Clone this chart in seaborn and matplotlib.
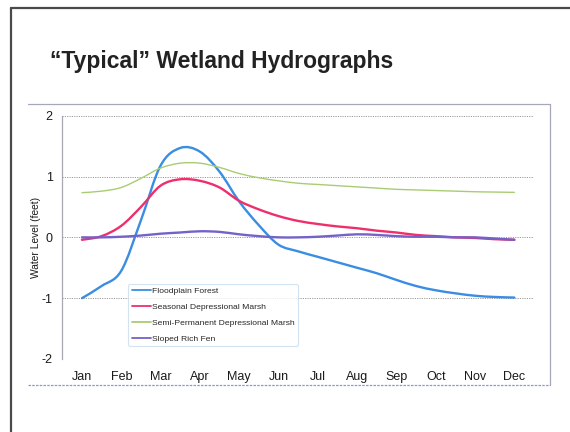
import numpy as np
import pandas as pd
import matplotlib
matplotlib.use("Agg")
import matplotlib.pyplot as plt
from matplotlib.lines import Line2D
from matplotlib.path import Path
from matplotlib.patches import PathPatch
import seaborn as sns

# Water level (feet) sampled twice a month, Jan (1) through Dec (12)
sample_month = [1, 1.5, 2, 2.5, 3, 3.5, 4, 4.5, 5, 5.5, 6, 6.5,
                7, 7.5, 8, 8.5, 9, 9.5, 10, 10.5, 11, 11.5, 12]

floodplain_forest = [-1.00, -0.80, -0.55, 0.28, 1.18, 1.47, 1.41, 1.08, 0.59, 0.20,
                     -0.12, -0.23, -0.32, -0.41, -0.50, -0.59, -0.70, -0.80, -0.87,
                     -0.92, -0.96, -0.98, -0.99]
seasonal_marsh = [-0.04, 0.02, 0.19, 0.50, 0.85, 0.955, 0.93, 0.82, 0.60, 0.46,
                  0.35, 0.27, 0.22, 0.18, 0.15, 0.11, 0.08, 0.04, 0.02, 0.00,
                  -0.01, -0.03, -0.04]
semi_permanent_marsh = [0.735, 0.76, 0.82, 0.97, 1.14, 1.22, 1.22, 1.15, 1.05, 0.98,
                        0.93, 0.89, 0.87, 0.85, 0.83, 0.81, 0.79, 0.78, 0.77, 0.76,
                        0.75, 0.745, 0.74]
sloped_rich_fen = [0.00, 0.00, 0.01, 0.03, 0.06, 0.08, 0.10, 0.09, 0.05, 0.02,
                   0.00, 0.00, 0.01, 0.03, 0.05, 0.04, 0.02, 0.01, 0.01, 0.00,
                   0.00, -0.02, -0.04]

series_names = ["Floodplain Forest", "Seasonal Depressional Marsh",
                "Semi-Permanent Depressional Marsh", "Sloped Rich Fen"]
series_values = [floodplain_forest, seasonal_marsh, semi_permanent_marsh, sloped_rich_fen]
series_colors = ["#3a8de2", "#ee2f6c", "#a9cc72", "#7462c8"]
series_widths = [1.7, 1.7, 1.0, 1.7]

month_labels = ["Jan", "Feb", "Mar", "Apr", "May", "Jun",
                "Jul", "Aug", "Sep", "Oct", "Nov", "Dec"]
y_ticks = [-2, -1, 0, 1, 2]

frames = []
for name, vals in zip(series_names, series_values):
    frames.append(pd.DataFrame({"month": sample_month, "level": vals, "wetland": name}))
df = pd.concat(frames, ignore_index=True)


def smooth_path(xs, ys):
    """Catmull-Rom style cubic Bezier path through the given points."""
    pts = np.column_stack([xs, ys]).astype(float)
    padded = np.vstack([pts[0], pts, pts[-1]])
    verts = [pts[0]]
    codes = [Path.MOVETO]
    for i in range(len(pts) - 1):
        p0, p1, p2, p3 = padded[i], padded[i + 1], padded[i + 2], padded[i + 3]
        verts += [p1 + (p2 - p0) / 6.0, p2 - (p3 - p1) / 6.0, p2]
        codes += [Path.CURVE4] * 3
    return Path(verts, codes)


sns.set_theme(style="white")
plt.rcParams["font.family"] = ["Liberation Sans", "DejaVu Sans"]

fig = plt.figure(figsize=(5.7, 4.32), dpi=100)
fig.patch.set_facecolor("white")
ax = fig.add_axes([0.1093, 0.169, 0.8275, 0.5631])

for name, color, lw in zip(series_names, series_colors, series_widths):
    sns.lineplot(data=df[df["wetland"] == name], x="month", y="level",
                 color=color, linewidth=lw, label=name, ax=ax,
                 errorbar=None, zorder=3)

ax.set_xlim(0.5, 12.5)
ax.set_ylim(-2, 2)
ax.set_xticks(range(1, 13))
ax.set_xticklabels(month_labels)
ax.set_xticks(np.arange(0.5, 12.6, 1), minor=True)
ax.set_yticks(y_ticks)
ax.set_yticklabels([str(v) for v in y_ticks])
ax.tick_params(axis="x", which="major", length=0, pad=9, labelsize=9, labelcolor="#1a1a1a")
ax.tick_params(axis="x", which="minor", length=3, width=0.8, color="#b0b0b0", direction="inout")
ax.tick_params(axis="y", length=0, pad=7, labelsize=9, labelcolor="#1a1a1a")

for v in [-1, 0, 1, 2]:
    ax.axhline(v, color="#9a9a9a", lw=0.7, ls=(0, (1.2, 1.2)), zorder=1)
ax.axhline(-2, color="#c8c8c8", lw=0.6, ls=(0, (1.2, 2.0)), zorder=1)

for side in ["top", "right", "bottom"]:
    ax.spines[side].set_visible(False)
ax.spines["left"].set_color("#a8a8b0")
ax.spines["left"].set_linewidth(0.9)

ax.set_xlabel("")
ax.set_ylabel("Water Level (feet)", fontsize=7.4, color="#1a1a1a", labelpad=0.5)

leg = ax.legend(loc="upper left", bbox_to_anchor=(0.14, 0.308), borderaxespad=0,
                fontsize=6.1, handlelength=2.3, handletextpad=0.1,
                labelspacing=0.92, borderpad=0.4, frameon=True, fancybox=True)
leg.get_frame().set_edgecolor("#c6dcf0")
leg.get_frame().set_linewidth(0.8)
leg.get_frame().set_facecolor("white")
leg.set_zorder(5)
for h in leg.get_lines():
    h.set_linewidth(1.3)

# render each seaborn line as a smoothed curve through its points
for line in list(ax.lines):
    if line.get_label() in series_names:
        xs, ys = line.get_xdata(), line.get_ydata()
        patch = PathPatch(smooth_path(xs, ys), fill=False, edgecolor=line.get_color(),
                          lw=line.get_linewidth(), zorder=3, capstyle="round",
                          joinstyle="round")
        ax.add_patch(patch)
        line.set_visible(False)

# slide title
fig.text(0.0877, 0.8426, "\u201cTypical\u201d Wetland Hydrographs", fontsize=16.5,
         fontweight="bold", color="#222222", va="baseline", ha="left")

# slide frame (top and left edges)
fig.add_artist(Line2D([0.0193, 1.0], [0.9815, 0.9815], transform=fig.transFigure,
                      color="#4a4a4a", lw=1.6))
fig.add_artist(Line2D([0.0193, 0.0193], [0.0, 0.9815], transform=fig.transFigure,
                      color="#4a4a4a", lw=1.6))

# chart box
fig.add_artist(Line2D([0.049, 0.9649], [0.7593, 0.7593], transform=fig.transFigure,
                      color="#a4a8b8", lw=0.9))
fig.add_artist(Line2D([0.9649, 0.9649], [0.7593, 0.1088], transform=fig.transFigure,
                      color="#a4a8b8", lw=0.9))
fig.add_artist(Line2D([0.049, 0.9649], [0.1088, 0.1088], transform=fig.transFigure,
                      color="#8a9ad0", lw=0.9, ls=(0, (2, 1))))

fig.savefig("out.png", dpi=100, facecolor="white")
